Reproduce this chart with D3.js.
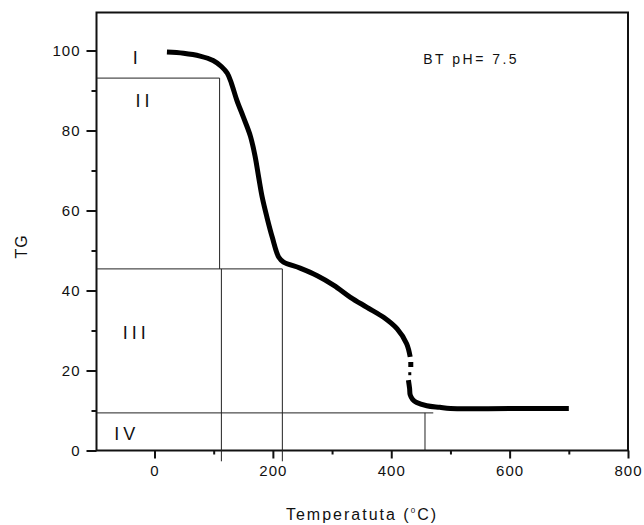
<!DOCTYPE html>
<html>
<head>
	<meta charset="utf-8">
	<title>TG</title>
	<script src="https://d3js.org/d3.v7.min.js"></script>
	<style>
		body{ margin:0; background:#fff; }
		text{ font-family:"Liberation Sans", Arial, sans-serif; fill:#111; }
		.tick text{ font-size:15px; letter-spacing:1px; }
		.stage{ font-size:18px; letter-spacing:4px; }
	</style>
</head>
<body>
	<svg width="644" height="525"></svg>
</body>
<script>
	// curve (temperature in C, TG in %)
	var temps1 = [21, 49, 77, 99, 113, 123, 130, 139, 150, 162, 170, 176, 182, 190, 199, 210, 218, 246, 275, 303, 331, 359, 387, 410, 426, 432];
	var tg1    = [99.6, 99.3, 98.6, 97.5, 96.0, 94.3, 91.8, 87.6, 83.4, 78.6, 73.5, 68.3, 63.3, 58.3, 53.3, 48.3, 47.1, 45.6, 43.7, 41.3, 38.3, 35.8, 33.3, 30.4, 26.7, 23.4];
	var temps2 = [429, 431, 432, 436, 443, 460, 482, 500, 600, 700];
	var tg2    = [17.6, 15.5, 13.9, 12.8, 12.0, 11.2, 10.8, 10.5, 10.5, 10.5];
	var dotTemps = [433, 433];
	var dotTg    = [21.5, 19.2];

	var xTicks = [0, 200, 400, 600, 800];
	var xMinor = [100, 300, 500, 700];
	var yTicks = [0, 20, 40, 60, 80, 100];
	var yMinor = [10, 30, 50, 70, 90];

	// stage boundaries
	var stageLevels = [93.1, 45.4, 9.4];
	var stageEnds   = [110, 216, 471];
	var stageDrops  = [[110, 93.1, 45.4], [113, 45.4, -2.7], [216, 45.4, -2.7], [457, 9.4, 0]];
	var stageNames  = ['I', 'II', 'III', 'IV'];
	var stageX      = [-29, -17, -31, -47];
	var stageY      = [98.2, 87.5, 29.5, 4.2];

	var svg = d3.select('svg');
	var x = d3.scaleLinear().domain([-98, 800]).range([96.5, 628]);
	var y = d3.scaleLinear().domain([0, 109.5]).range([450.5, 12.5]);

	// frame
	svg.append('rect')
		.attr('x', x(-98)).attr('y', y(109.5))
		.attr('width', x(800) - x(-98)).attr('height', y(0) - y(109.5))
		.attr('fill', 'none').attr('stroke', '#111').attr('stroke-width', 2);

	// axes
	svg.append('g').attr('transform', 'translate(0,' + y(0) + ')')
		.call(d3.axisBottom(x).tickValues(xTicks).tickSize(8).tickPadding(7).tickFormat(d3.format('d')));
	svg.append('g').attr('transform', 'translate(0,' + y(0) + ')')
		.call(d3.axisBottom(x).tickValues(xMinor).tickSize(4).tickFormat(''));
	svg.append('g').attr('transform', 'translate(' + x(-98) + ',0)')
		.call(d3.axisLeft(y).tickValues(yTicks).tickSize(10).tickPadding(6).tickFormat(d3.format('d')));
	svg.append('g').attr('transform', 'translate(' + x(-98) + ',0)')
		.call(d3.axisLeft(y).tickValues(yMinor).tickSize(5).tickFormat(''));
	svg.selectAll('.domain').remove();
	svg.selectAll('.tick line').attr('stroke', '#111').attr('stroke-width', 2);

	// stage lines
	svg.selectAll('.hl').data(stageLevels).enter().append('line')
		.attr('x1', x(-98)).attr('x2', function(d, i){ return x(stageEnds[i]); })
		.attr('y1', function(d){ return y(d); }).attr('y2', function(d){ return y(d); })
		.attr('stroke', '#222').attr('stroke-width', 1);
	svg.selectAll('.vl').data(stageDrops).enter().append('line')
		.attr('x1', function(d){ return x(d[0]); }).attr('x2', function(d){ return x(d[0]); })
		.attr('y1', function(d){ return y(d[1]); }).attr('y2', function(d){ return y(d[2]); })
		.attr('stroke', '#222').attr('stroke-width', 1);

	svg.selectAll('.stage').data(stageNames).enter().append('text')
		.attr('class', 'stage')
		.attr('x', function(d, i){ return x(stageX[i]); })
		.attr('y', function(d, i){ return y(stageY[i]); })
		.attr('dy', '0.35em').attr('text-anchor', 'middle')
		.text(function(d){ return d; });

	// curve
	var line = d3.line()
		.x(function(d){ return x(d[0]); })
		.y(function(d){ return y(d[1]); })
		.curve(d3.curveCatmullRom);
	svg.append('path').datum(d3.zip(temps1, tg1))
		.attr('d', line).attr('fill', 'none').attr('stroke', '#000').attr('stroke-width', 5);
	svg.append('path').datum(d3.zip(temps2, tg2))
		.attr('d', line).attr('fill', 'none').attr('stroke', '#000').attr('stroke-width', 5);
	svg.selectAll('.dot').data(d3.zip(dotTemps, dotTg)).enter().append('rect')
		.attr('x', function(d){ return x(d[0]) - 2.5; })
		.attr('y', function(d, i){ return y(d[1]) - (i ? 1.5 : 2.5); })
		.attr('width', function(d, i){ return i ? 3 : 5; })
		.attr('height', function(d, i){ return i ? 3 : 5; })
		.attr('fill', '#000');

	// labels
	svg.append('text').attr('x', x(454)).attr('y', y(97.75)).attr('dy', '0.35em')
		.style('font-size', '14px').style('letter-spacing', '2.5px')
		.text('BT pH= 7.5');

	svg.append('text').attr('transform', 'translate(27,' + y(51) + ') rotate(-90)')
		.attr('text-anchor', 'middle').style('font-size', '16px').style('letter-spacing', '1px')
		.text('TG');

	var xt = svg.append('text').attr('x', 362).attr('y', 520).attr('text-anchor', 'middle')
		.style('font-size', '16px').style('letter-spacing', '2px');
	xt.append('tspan').text('Temperatuta (');
	xt.append('tspan').attr('dy', -7).style('font-size', '8px').text('0');
	xt.append('tspan').attr('dy', 7).text('C)');
</script>
</html>
